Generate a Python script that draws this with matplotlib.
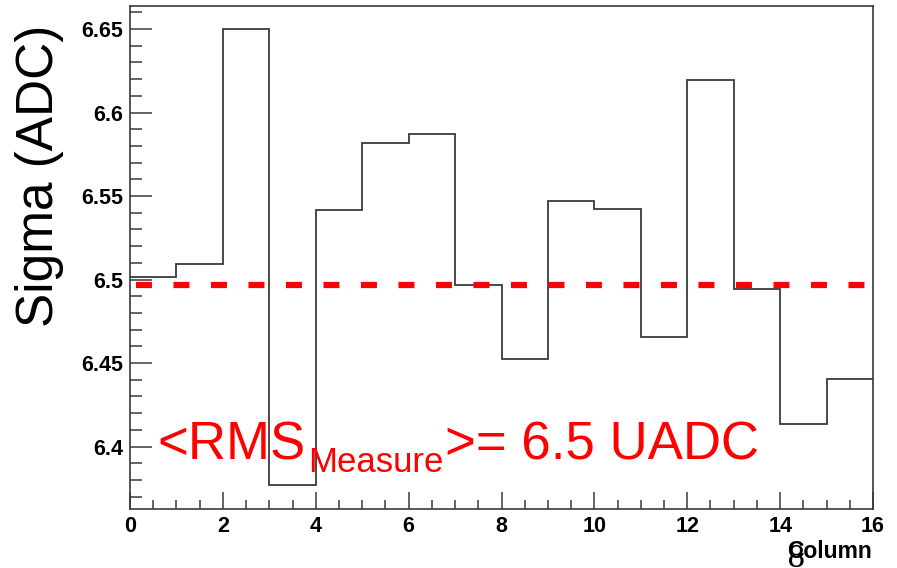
import matplotlib
matplotlib.use("Agg")
import matplotlib.pyplot as plt
from matplotlib.ticker import MultipleLocator

plt.rcParams['font.family'] = ['Liberation Sans', 'DejaVu Sans']
plt.rcParams['lines.scale_dashes'] = False

# Sigma per column
bin_edges = list(range(0, 17))
sigma = [6.5017, 6.5095, 6.6500, 6.3770, 6.5416, 6.5817, 6.5871, 6.4967,
         6.4524, 6.5470, 6.5420, 6.4656, 6.6195, 6.4941, 6.4135, 6.4404]
mean_sigma = 6.497

x_ticks = [0, 2, 4, 6, 8, 10, 12, 14, 16]
y_ticks = [6.4, 6.45, 6.5, 6.55, 6.6, 6.65]
y_labels = ["6.4", "6.45", "6.5", "6.55", "6.6", "6.65"]

W, H = 897, 568
fig = plt.figure(figsize=(W / 100, H / 100), dpi=100)
ax = fig.add_axes([130 / W, 59 / H, 743 / W, 503 / H])

frame_col = '#3a3a3a'
ax.stairs(sigma, bin_edges, baseline=None, color=frame_col, lw=1.3)

# mean line, red dashes
ax.plot([0, 16], [mean_sigma, mean_sigma], color='#ff0000', lw=4.5,
        linestyle=(22.7, (11.5, 15.5)), solid_capstyle='butt')

ax.set_xlim(0, 16)
ax.set_ylim(6.3626, 6.6638)

for s in ax.spines.values():
    s.set_color(frame_col)
    s.set_linewidth(1.2)

ax.set_xticks(x_ticks)
ax.set_xticklabels([str(v) for v in x_ticks])
ax.set_yticks(y_ticks)
ax.set_yticklabels(y_labels)
ax.xaxis.set_minor_locator(MultipleLocator(0.5))
ax.yaxis.set_minor_locator(MultipleLocator(0.01))
ax.tick_params(axis='both', which='both', direction='in', color=frame_col,
               width=1.1, labelsize=15.5, pad=5)
ax.tick_params(axis='y', which='major', length=15.5)
ax.tick_params(axis='y', which='minor', length=8.4)
ax.tick_params(axis='x', which='major', length=12)
ax.tick_params(axis='x', which='minor', length=6.5)
for lab in ax.get_xticklabels() + ax.get_yticklabels():
    lab.set_fontweight('bold')

# axis titles
fig.text(40 / W, 1 - 176 / H, "Sigma (ADC)", rotation=90, fontsize=37,
         ha='center', va='center', color='black')
fig.text(872 / W, 1 - 558 / H, "Column", fontsize=16.5, fontweight='bold',
         ha='right', va='baseline', color='black')
# stray page number from the slide, half under the axis title
fig.text(796 / W, 1 - 545 / H, "8", fontsize=21, ha='center', va='top',
         color='black', family='DejaVu Serif')

# red annotation built from three pieces
base_y = 1 - 459 / H
sub_y = 1 - 472 / H
t1 = fig.text(157 / W, base_y, "<RMS", fontsize=38, color='red', va='baseline')
renderer = fig.canvas.get_renderer()
x1 = t1.get_window_extent(renderer).x1
t2 = fig.text((x1 + 3) / W, sub_y, "Measure", fontsize=25, color='red',
              va='baseline')
x2 = t2.get_window_extent(renderer).x1
fig.text((x2 + 1) / W, base_y, ">= 6.5 UADC", fontsize=38, color='red',
         va='baseline')

fig.savefig("out.png", dpi=100)
